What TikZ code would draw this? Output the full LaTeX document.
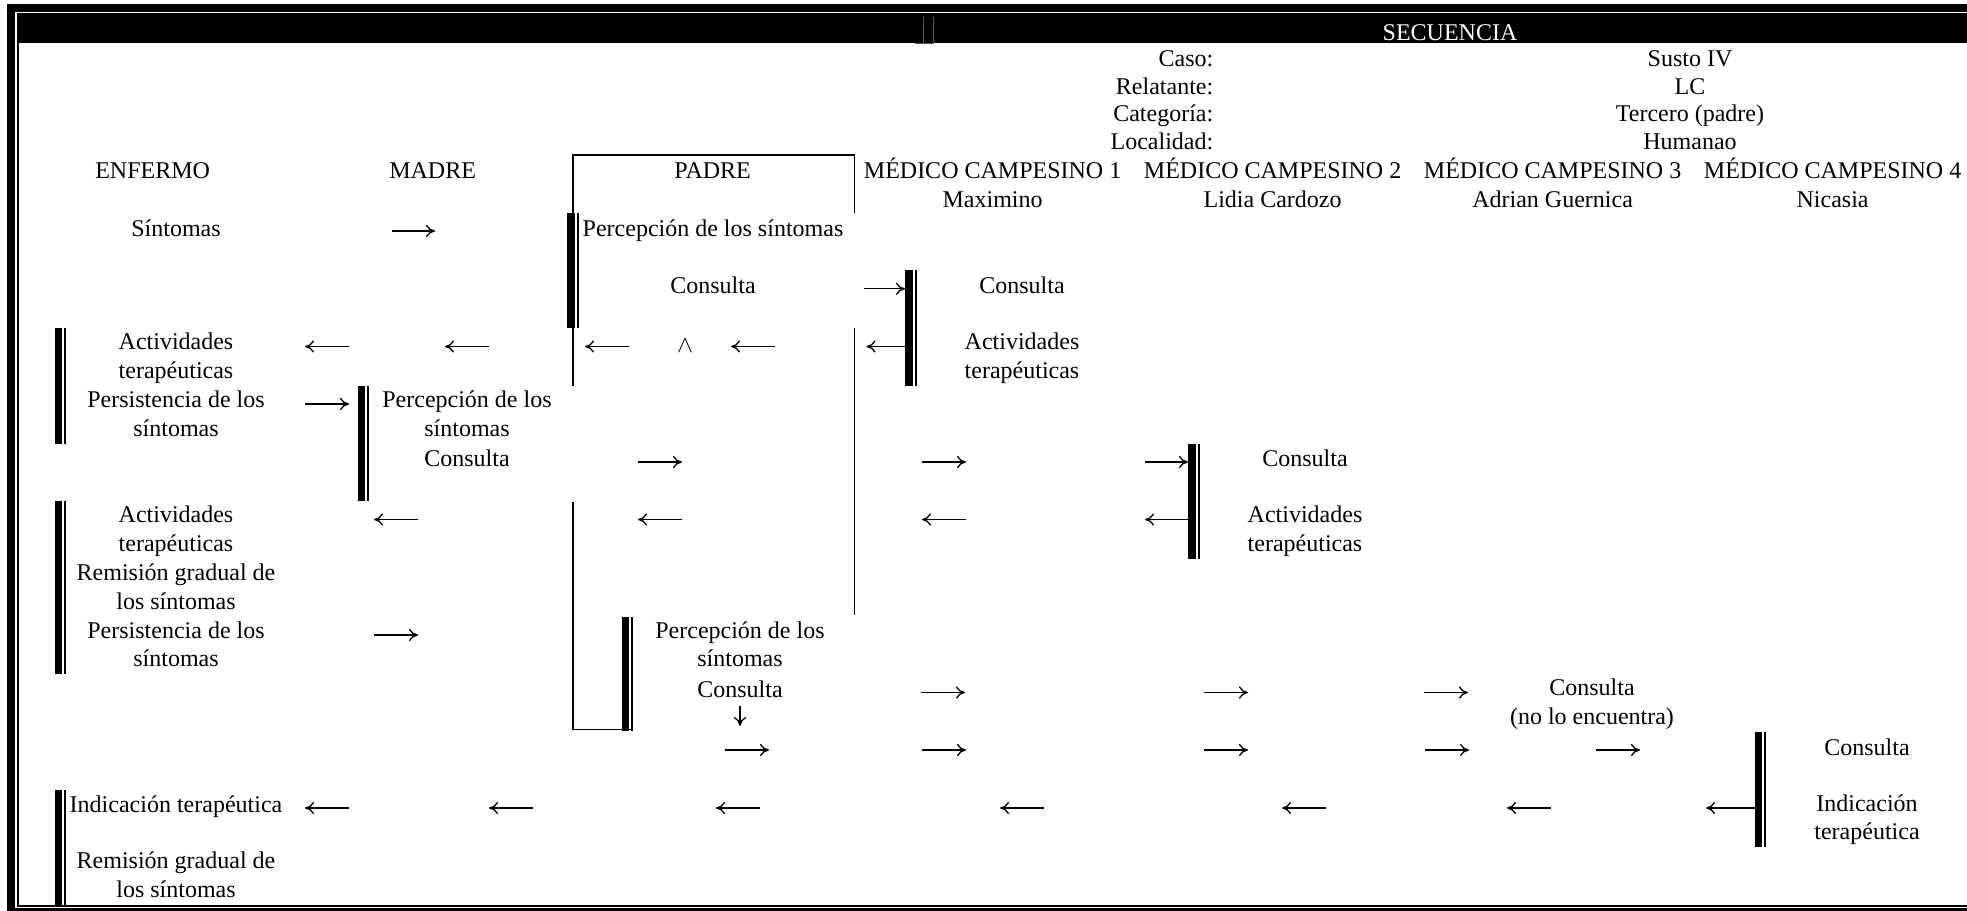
\documentclass[tikz,border=0pt]{standalone}
\usepackage{fontspec}
\setmainfont{Liberation Serif}
\usetikzlibrary{arrows.meta}
\definecolor{cgrey}{HTML}{5A5A5A}
\tikzset{
  every picture/.style={line width=0.75pt},
  txt/.style={font=\fontsize{12}{14.42}\selectfont, inner sep=0pt, align=center, yshift=-1.6pt,
    execute at begin node=\strut, execute at end node=\strut},
  rarr/.style={-{Computer Modern Rightarrow[length=4.5pt, width=6pt]}, line width=0.65pt},
  larr/.style={{Computer Modern Rightarrow[length=4.5pt, width=6pt]}-, line width=0.65pt},
  boxline/.style={line width=0.75pt},
}

\begin{document}
\begin{tikzpicture}[x=0.5pt, y=-0.5pt]
  \useasboundingbox[fill=white] (0,0) rectangle (1967,911);
  % frame and header band
  \fill (7,4) rectangle (15,911);
  \fill (7,4) rectangle (1967,12);
  \fill (7,908) rectangle (1967,911);
  \fill (16.7,13.3) rectangle (18.7,907);
  \fill (16.7,905) rectangle (1967,907);
  \fill (16.7,13.3) rectangle (1967,43.3);
  \draw[cgrey, line width=0.5pt] (923.5,16.7) -- (923.5,43.2) (933.2,16.7) -- (933.2,43.2) (915,43.3) -- (934,43.3);
  \node[txt, text=white] (sec) at (1450,32) {SECUENCIA};

  \node[txt, anchor=east] (caso) at (1214,57.5) {Caso:};
  \node[txt, anchor=east] (relat) at (1214,85.2) {Relatante:};
  \node[txt, anchor=east] (categ) at (1214,112.9) {Categoría:};
  \node[txt, anchor=east] (local) at (1214,140.6) {Localidad:};
  \node[txt] (casov) at (1690,57.5) {Susto IV};
  \node[txt] (relatv) at (1690,85.2) {LC};
  \node[txt] (categv) at (1690,112.9) {Tercero (padre)};
  \node[txt] (localv) at (1690,140.6) {Humanao};

  % column heads
  \node[txt] (enfermo) at (152.6,169.4) {ENFERMO};
  \node[txt] (madre) at (432.6,169.4) {MADRE};
  \node[txt] (padre) at (712.6,169.4) {PADRE};
  \node[txt] (mcone) at (992.6,169.4) {MÉDICO CAMPESINO 1};
  \node[txt] (mctwo) at (1272.6,169.4) {MÉDICO CAMPESINO 2};
  \node[txt] (mcthree) at (1552.6,169.4) {MÉDICO CAMPESINO 3};
  \node[txt] (mcfour) at (1832.6,169.4) {MÉDICO CAMPESINO 4};
  \node[txt] (maximino) at (992.6,198.3) {Maximino};
  \node[txt] (lidia) at (1272.6,198.3) {Lidia Cardozo};
  \node[txt] (adrian) at (1552.6,198.3) {Adrian Guernica};
  \node[txt] (nicasia) at (1832.6,198.3) {Nicasia};

  % padre box
  \draw[boxline] (572.8,213) |- (854.3,155) -- (854.3,213);
  \draw[boxline] (572.8,328) -- (572.8,386);
  \draw[boxline] (572.8,502) |- (631,729.5);
  \draw[boxline] (854.3,328) -- (854.3,615);

  % double bars
  \foreach \x/\ya/\yb in {54.5/328.1/443.5, 54.5/501.2/674.3, 54.5/789.7/905,
      357.5/385.8/501.2, 567/212.7/328.1, 621.5/616.6/730.5,
      905/270.4/385.8, 1188/443.5/558.9, 1754.5/732/847.4} {
    \fill (\x,\ya) rectangle (\x+7.5,\yb);
    \fill (\x+9.8,\ya) rectangle (\x+11.8,\yb);
  }

  % enfermo
  \node[txt] (sint) at (176,227.1) {Síntomas};
  \node[txt] (actone) at (176,356.9) {Actividades\\terapéuticas};
  \node[txt] (persone) at (176,414.6) {Persistencia de los\\síntomas};
  \node[txt] (acttwo) at (176,529.9) {Actividades\\terapéuticas};
  \node[txt] (remone) at (176,587.6) {Remisión gradual de\\los síntomas};
  \node[txt] (perstwo) at (176,645.3) {Persistencia de los\\síntomas};
  \node[txt] (indic) at (176,803.9) {Indicación terapéutica};
  \node[txt] (remtwo) at (176,876) {Remisión gradual de\\los síntomas};
  % madre
  \node[txt] (percmadre) at (467,414.6) {Percepción de los\\síntomas};
  \node[txt] (consmadre) at (467,457.8) {Consulta};
  % padre
  \node[txt] (percpadre) at (713,227.1) {Percepción de los síntomas};
  \node[txt] (conspadre) at (713,284.8) {Consulta};
  \node[txt] (caret) at (685,344) {$\wedge$};
  \node[txt] (percpadretwo) at (740,645.3) {Percepción de los\\síntomas};
  \node[txt] (conspadretwo) at (740,688.5) {Consulta};
  % medicos
  \node[txt] (consone) at (1022,284.8) {Consulta};
  \node[txt] (actmcone) at (1022,356.9) {Actividades\\terapéuticas};
  \node[txt] (constwo) at (1305,457.8) {Consulta};
  \node[txt] (actmctwo) at (1305,529.9) {Actividades\\terapéuticas};
  \node[txt] (consthree) at (1592,703) {Consulta\\(no lo encuentra)};
  \node[txt] (consfour) at (1867,746.2) {Consulta};
  \node[txt] (indicfour) at (1867,818.3) {Indicación\\terapéutica};

  % arrows
  \draw[rarr] (392,231) -- ++(43,0);
  \draw[rarr] (864,288.8) -- ++(41,0);
  \foreach \a in {305, 445, 585, 731} \draw[larr] (\a,346.5) -- ++(44,0);
  \draw[larr] (866.5,346.5) -- ++(38.5,0);
  \draw[rarr] (305,404) -- ++(44,0);
  \foreach \a in {638, 922} \draw[rarr] (\a,462) -- ++(44,0);
  \draw[rarr] (1145,462) -- ++(43,0);
  \foreach \a in {374, 638, 922} \draw[larr] (\a,519.5) -- ++(44,0);
  \draw[larr] (1145,519.5) -- ++(43,0);
  \draw[rarr] (374,635) -- ++(44,0);
  \foreach \a in {921, 1204, 1424} \draw[rarr] (\a,692.5) -- ++(44,0);
  \draw[rarr] (740,706) -- (740,726);
  \foreach \a in {725, 922, 1204, 1425, 1596} \draw[rarr] (\a,750) -- ++(44,0);
  \foreach \a in {305, 489, 716, 1000, 1282, 1507} \draw[larr] (\a,808) -- ++(44,0);
  \draw[larr] (1706,808) -- ++(48.5,0);
\end{tikzpicture}
\end{document}
